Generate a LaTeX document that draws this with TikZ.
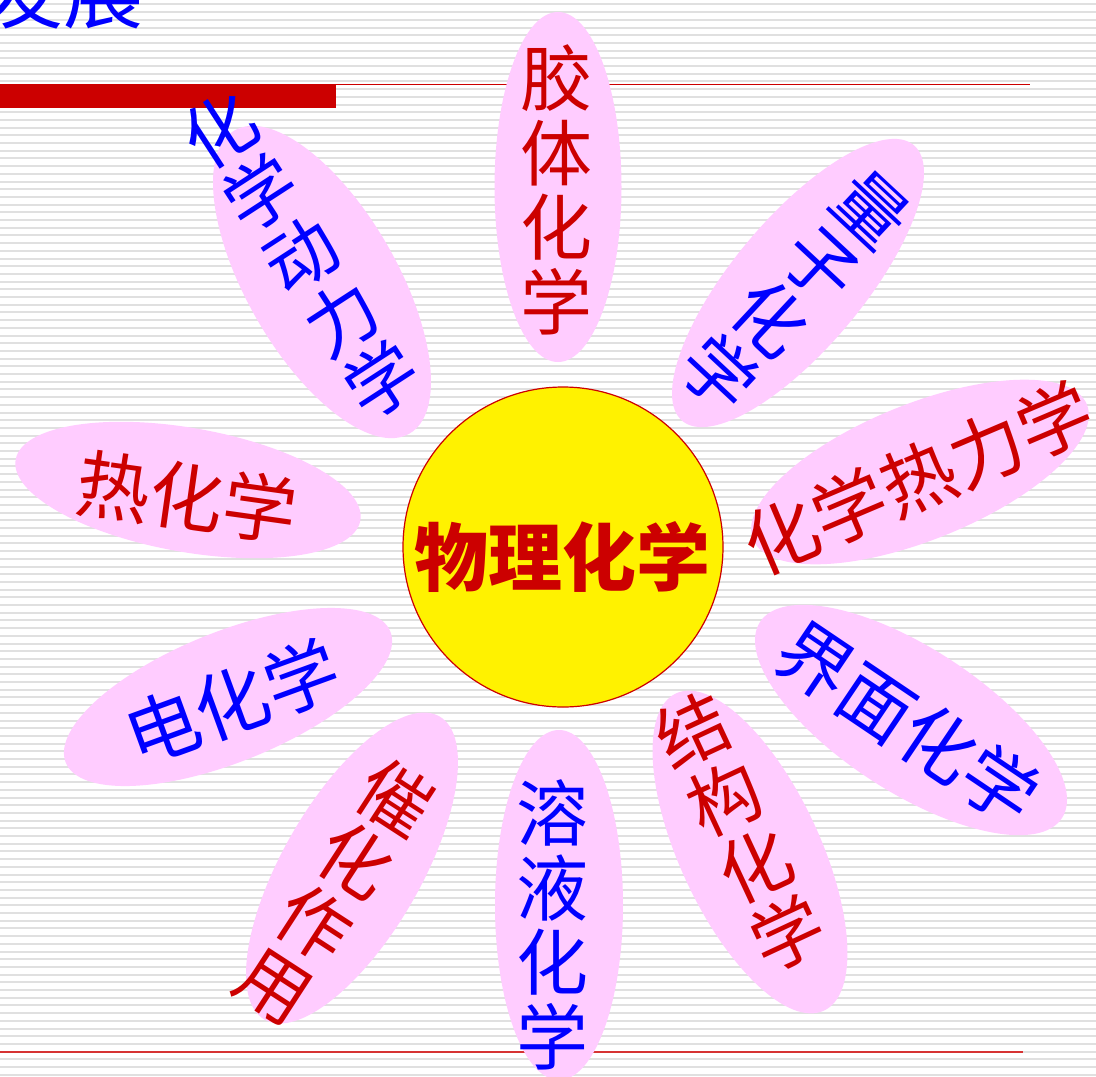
\documentclass[tikz,border=0pt]{standalone}
\usepackage{fontspec}
\newfontfamily\cjk{Noto Sans CJK SC}
\usetikzlibrary{shapes.geometric}
\definecolor{pinkfill}{HTML}{FFCCFF}
\definecolor{dred}{HTML}{CC0000}
\definecolor{stripe}{HTML}{E0E0E0}
\begin{document}
\begin{tikzpicture}[x=1pt,y=-1pt,
  petal/.style={ellipse, fill=pinkfill, draw=none, inner sep=0pt},
  vtext/.style={font=\cjk\fontsize{72}{74.5}\selectfont, align=center, inner sep=0pt},
  htext/.style={font=\cjk\fontsize{74}{74}\selectfont, inner sep=0pt},
  redtxt/.style={text=dred},
  bluetxt/.style={text=blue},
]
\useasboundingbox (0,0) rectangle (1096,1077);
\clip (0,0) rectangle (1096,1077);
\fill[white] (0,0) rectangle (1096,1077);
\foreach \k in {0,...,139}
  \draw[stripe, line width=2pt] (0,{4.4+7.7*\k}) -- (1096,{4.4+7.7*\k});

% slide template
\draw[dred, line width=1.5pt] (0,84.3) -- (1030,84.3);
\fill[dred] (0,84) rectangle (336,107.5);
\draw[dred!80, line width=1.2pt] (0,1052) -- (1023,1052);
\node[anchor=base east, text=blue, font=\cjk\fontsize{80}{80}\selectfont, inner sep=0pt] (title) at (144,22) {发展};

% petals
\node[petal, minimum width=127pt, minimum height=350pt] (p1) at (558,187) {};
\node[petal, minimum width=130pt, minimum height=360pt, rotate=-40] (p2) at (798,283) {};
\node[petal, minimum width=150pt, minimum height=350pt, rotate=30] (p3) at (322,282) {};
\node[petal, minimum width=350pt, minimum height=124pt, rotate=-10] (p4) at (188,490) {};
\node[petal, minimum width=350pt, minimum height=130pt, rotate=22] (p5) at (228,697) {};
\node[petal, minimum width=138pt, minimum height=350pt, rotate=-30] (p6) at (352,868) {};
\node[petal, minimum width=128pt, minimum height=350pt] (p7) at (559,905) {};
\node[petal, minimum width=140pt, minimum height=350pt, rotate=25] (p8) at (750,852) {};
\node[petal, minimum width=360pt, minimum height=144pt, rotate=-33] (p9) at (911,720) {};
\node[petal, minimum width=360pt, minimum height=136pt, rotate=22] (p10) at (920,472) {};

% centre
\node[circle, fill=yellow, draw=dred, line width=1.2pt, minimum size=320pt, inner sep=0pt] (core) at (563,547) {};
\node[font=\cjk\bfseries\fontsize{74}{74}\selectfont, text=dred, inner sep=0pt] (coretext) at (562,557) {物理化学};

% petal texts
\node[vtext, redtxt] (t1) at (556,190) {胶\\体\\化\\学};
\node[vtext, bluetxt, rotate=-43] (t2) at (795,292) {量\\子\\化\\学};
\node[vtext, bluetxt, rotate=33] (t3) at (301,255) {化\\学\\动\\力\\学};
\node[htext, redtxt, rotate=-8] (t4) at (187,497) {热化学};
\node[htext, bluetxt, rotate=20] (t5) at (232,702) {电化学};
\node[vtext, redtxt, rotate=-33] (t6) at (335,892) {催\\化\\作\\用};
\node[vtext, bluetxt] (t7) at (552,925) {溶\\液\\化\\学};
\node[vtext, redtxt, rotate=25] (t8) at (740,832) {结\\构\\化\\学};
\node[htext, bluetxt, rotate=-34] (t9) at (908,723) {界面化学};
\node[htext, redtxt, rotate=23] (t10) at (918,478) {化学热力学};
\end{tikzpicture}
\end{document}
